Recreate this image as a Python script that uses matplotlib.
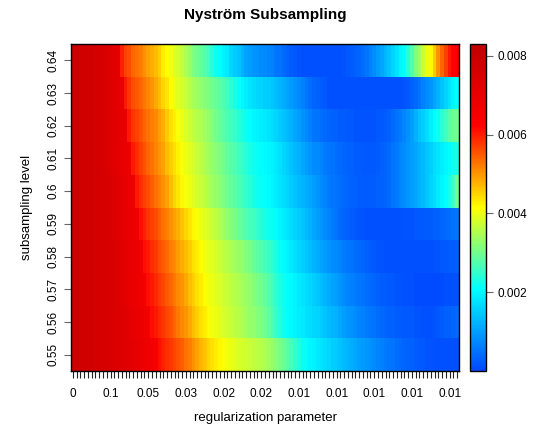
import numpy as np
import matplotlib
matplotlib.use("Agg")
from matplotlib import pyplot as plt
from matplotlib.colors import LinearSegmentedColormap

plt.rcParams["font.family"] = ["Liberation Sans", "DejaVu Sans"]

# subsampling levels (rows, bottom to top)
levels = ["0.55", "0.56", "0.57", "0.58", "0.59", "0.6", "0.61", "0.62", "0.63", "0.64"]
# labels shown under every 10th column of the regularization grid
xlabels = ["0", "0.1", "0.05", "0.03", "0.02", "0.02", "0.01", "0.01", "0.01", "0.01", "0.01"]
cbar_ticks = [0.002, 0.004, 0.006, 0.008]

# error values, in units of 1e-4, one list per level
err_055 = [79, 79, 78, 78, 77, 77, 76, 76, 75, 75, 74, 74, 73, 73, 72, 72, 71, 70, 69, 68, 67, 66, 65,
           61, 59.5, 58.5, 57.5, 56.5, 55.5, 54.5, 53, 52, 50.5, 49, 47.5, 46.5, 45,
           44, 43, 42, 41.5, 40.5, 40, 39, 38.5, 38, 37.5, 37, 36.5, 36, 35.5,
           35, 34, 33, 32, 30.5, 29.5, 28, 26.5, 25, 23.5, 22, 21, 20, 19.5,
           18.5, 18, 17, 16.5, 15.5, 15, 14, 13, 12.5, 11.5, 11, 10, 9.5, 9,
           8.5, 8, 7, 6.5, 6, 5.5, 5, 4.5, 4, 3.5, 3, 3, 2.5, 2,
           2, 1.5, 1.5, 1, 1, 1, 1, 1, 1, 1]
err_056 = [79, 79, 78, 78, 77, 77, 76, 76, 75, 75, 74, 74, 73, 73, 72, 71, 70, 69, 68, 67, 66,
           61, 60, 59, 58, 56.5, 55.5, 54, 52.5, 51, 50, 48.5, 47, 45.5, 44,
           43, 41.5, 40.5, 40, 39, 38.5, 37.5, 37, 36, 35.5, 35, 34, 33, 32.5,
           31.5, 31, 30, 28.5, 27, 25, 23.5, 22, 21, 20.5, 19.5, 19, 18.5, 17.5,
           17, 16.5, 16, 15, 14, 13, 12.5, 12, 11, 10, 9, 8.5, 8, 7,
           6.5, 6, 5.5, 5, 4.5, 4, 3.5, 3, 3, 2.5, 2.5, 2, 2, 2,
           1.5, 1.5, 1, 1, 1, 1.5, 2, 2.5, 3, 3, 3.5, 4]
err_057 = [79, 79, 78, 78, 77, 77, 76, 76, 75, 75, 74, 74, 73, 72, 71, 70, 69, 68, 67, 66,
           61, 60, 59, 57.5, 56.5, 55, 54, 52.5, 51, 50, 48.5, 47, 45.5, 44,
           43, 41.5, 40.5, 40, 39, 38.5, 37.5, 37, 36, 35.5, 35, 34, 33.5, 32.5,
           31.5, 30.5, 30, 29, 27.5, 26, 24.5, 23, 22, 21, 20.5, 19.5, 18.5, 18,
           17, 16.5, 15.5, 14.5, 13.5, 12.5, 11.5, 10.5, 10, 9, 8, 7, 6.5, 6,
           5.5, 5, 4.5, 4, 3.5, 3, 2.5, 2.5, 2, 2, 1.5, 1.5, 1, 1,
           1, 0.5, 0.5, 0.5, 0.5, 0.5, 0.5, 0.5, 0.5, 1, 1, 1, 1.5]
err_058 = [79, 79, 78, 78, 77, 77, 76, 76, 75, 75, 74, 74, 73, 72, 71, 70, 69, 68, 67,
           61, 60, 58.5, 57.5, 56, 55, 53.5, 52, 51, 49.5, 48, 47, 45.5, 44,
           43, 41.5, 40.5, 39.5, 39, 38, 37, 36.5, 35.5, 35, 34, 33, 32.5, 31.5,
           30.5, 29.5, 28.5, 27.5, 26.5, 25.5, 24.5, 23, 21.5, 20.5, 19.5, 18.5, 17.5, 16.5,
           15.5, 14.5, 13.5, 12.5, 11.5, 10.5, 9.5, 9, 8, 7.5, 7, 6, 5.5, 5,
           4.5, 4, 3.5, 3, 2.5, 2, 1.5, 1.5, 1, 1, 1, 1, 1, 1,
           1, 1, 1, 1, 1, 1, 1, 1.5, 1.5, 2, 2, 2.5, 2.5, 3]
err_059 = [79, 79, 78, 78, 77, 77, 76, 76, 75, 75, 74, 73, 72, 71, 70, 69, 68, 67,
           61, 59.5, 58, 57, 56, 54.5, 53, 52, 50.5, 49, 48, 46.5, 45, 43.5,
           42, 41, 40, 39, 38, 37, 36, 35, 34, 32.5, 31.5, 30.5, 29.5, 28.5,
           27.5, 26.5, 26, 25, 24, 23, 22, 21.5, 21, 20, 19, 18, 17, 16,
           15, 14, 13, 12, 11, 10, 9, 8, 7, 6, 5, 4, 3.5, 3,
           2.5, 2, 1.5, 1.5, 1, 1, 1, 1, 1, 1, 1, 1, 1, 1,
           1.5, 1.5, 1.5, 2, 2, 2, 2.5, 2.5, 3, 3, 3.5, 4, 4.5, 5, 5.5]
err_060 = [79, 79, 78, 78, 77, 77, 76, 76, 75, 75, 74, 73, 72, 71, 70, 69, 68,
           60, 58.5, 57, 56, 54.5, 53, 52, 50.5, 49, 47, 45, 43.5, 42, 41,
           40, 39, 38, 37, 36, 35, 34, 33, 32, 31, 30, 29, 28, 27,
           26, 25, 24, 23, 22, 21.5, 21, 20.5, 20, 19, 18, 17, 16, 15,
           14, 13, 12.5, 11.5, 11, 10, 9, 8, 7, 6, 5.5, 5, 4.5, 4,
           3.5, 3, 3, 2.5, 2.5, 2.5, 2.5, 2.5, 3, 3, 3.5, 4, 5, 6,
           7, 8, 9, 10, 11, 12, 13, 14.5, 16, 17, 18.5, 20, 21, 23, 26, 30]
err_061 = [79, 79, 78, 78, 77, 77, 76, 76, 75, 74, 73, 72, 71, 70, 69, 68,
           60, 58.5, 57, 55.5, 54, 53, 51.5, 50, 49, 47, 45.5, 44, 42.5, 41,
           40, 39, 38, 37, 36, 35, 34, 33, 32, 31, 30, 29, 28, 27,
           26, 25, 24, 23, 22, 21.5, 21, 20.5, 20, 19.5, 18.5, 17.5, 16.5, 15,
           14, 13, 12, 11, 10, 9, 8, 7.5, 7, 6, 5.5, 5, 4.5, 4,
           3.5, 3, 3, 2.5, 2.5, 2, 2, 2, 2, 2.5, 3, 3.5, 4, 5,
           6, 7, 8, 9, 10, 11, 12, 13, 14.5, 15.5, 17, 18, 19, 20, 21, 22, 23]
err_062 = [79, 79, 78, 78, 77, 77, 76, 76, 75, 74, 73, 72, 71, 70, 69,
           60, 58, 57, 55.5, 54, 53, 52, 51, 49.5, 48, 46, 44, 42.5, 41,
           40, 38.5, 37.5, 36.5, 35.5, 35, 34, 33, 31.5, 30, 29, 28, 27, 26,
           25, 24, 23, 22, 21, 20, 19.5, 19, 18.5, 18, 17, 16, 15, 14,
           13, 12, 11, 10, 8.5, 7.5, 6.5, 5.5, 5, 4.5, 4, 3.5, 3, 3,
           2.5, 2.5, 2, 2, 1.5, 1.5, 1.5, 1.5, 1.5, 1.5, 2, 2, 2.5, 3,
           4, 5, 6, 7, 8.5, 10, 12, 14, 15.5, 17, 19, 20.5, 22, 24, 26, 28, 29.5, 30]
err_063 = [79, 79, 78, 78, 77, 77, 76, 76, 75, 74, 73, 72, 71, 70,
           60, 58, 56, 55, 54, 52.5, 51.5, 50, 48.5, 47, 45, 43.5, 41.5, 40.5,
           39, 38, 37, 35.5, 34.5, 33.5, 32.5, 31.5, 31, 30, 29, 28, 27, 26,
           24.5, 23, 21.5, 20, 19, 18, 17, 16.5, 16, 15.5, 15, 14.5, 13.5, 12.5,
           11.5, 10.5, 9.5, 8.5, 7.5, 6.5, 5.5, 4.5, 3.5, 3, 2.5, 2,
           1, 1, 1, 1, 1, 1, 1, 1, 1, 1, 1, 1, 1, 1, 1, 1, 1, 1, 1, 1,
           1.5, 2, 3, 4, 5, 6.5, 8, 9, 10.5, 12, 14, 16, 18, 20, 21]
err_064 = [79, 79, 78, 78, 77, 77, 76, 76, 75, 74, 73, 72, 71,
           59.5, 57, 56, 54, 53, 52, 50.5, 49, 48, 47, 45.5, 43, 41.5,
           40.5, 39, 38, 36.5, 35, 33, 31, 30, 29, 27.5, 26, 24, 22, 21,
           19.5, 18.5, 16.5, 15, 14, 12, 10.5, 9.5, 9, 8.5, 8, 7.5, 7, 6.5,
           5.5, 5, 4, 3, 2.5, 2, 1.5, 1, 1, 1, 1, 1, 1, 1, 1, 1, 1,
           1, 1.5, 2, 2.5, 3, 3.5, 4.5, 5.5, 6.5, 8, 9.5, 11, 12.5, 14, 16, 18, 20, 21,
           24, 27, 31, 34, 37, 40, 42, 46, 50, 54, 57, 60, 62, 64]

rows = [err_055, err_056, err_057, err_058, err_059,
        err_060, err_061, err_062, err_063, err_064]
Z = np.array(rows) * 1e-4
ncol = Z.shape[1]

cmap = LinearSegmentedColormap.from_list(
    "rjet", [(0.0, "#0048FF"), (0.25, "#00FFFF"), (0.5, "#FFFF00"),
             (0.75, "#FF0000"), (1.0, "#C00000")])

fig = plt.figure(figsize=(5.38, 4.25), dpi=100)
ax = fig.add_axes([71 / 538, 54 / 425, 388 / 538, 327 / 425])
cax = fig.add_axes([470 / 538, 54 / 425, 16 / 538, 327 / 425])

im = ax.imshow(Z, origin="lower", aspect="auto", cmap=cmap,
               vmin=0.0, vmax=0.0083, interpolation="nearest",
               extent=(-0.5, ncol - 0.5, -0.5, len(levels) - 0.5))

ax.set_xticks(np.arange(ncol), minor=True)
ax.set_xticks(np.arange(0, 101, 10))
ax.set_xticklabels(xlabels, fontsize=8.5)
ax.tick_params(axis="x", which="both", length=5, width=0.8, color="#222222", pad=7)
ax.set_yticks(np.arange(len(levels)))
ax.set_yticklabels(levels, fontsize=8.5, rotation=90, va="center")
ax.tick_params(axis="y", length=5, width=0.8, color="#666666", pad=3)
for s in ax.spines.values():
    s.set_linewidth(1.0)

ax.set_xlabel("regularization parameter", fontsize=9.5, labelpad=9)
ax.set_ylabel("subsampling level", fontsize=9.5, labelpad=11)
ax.set_title("Nyström Subsampling", fontsize=11, fontweight="bold", pad=18)

cb = fig.colorbar(im, cax=cax, ticks=cbar_ticks)
cb.ax.set_yticklabels(["%.3f" % t for t in cbar_ticks], fontsize=8.5)
cb.ax.tick_params(length=5, width=0.8, color="#666666", pad=3)
cb.outline.set_linewidth(1.0)

fig.savefig("out.png", dpi=100)
